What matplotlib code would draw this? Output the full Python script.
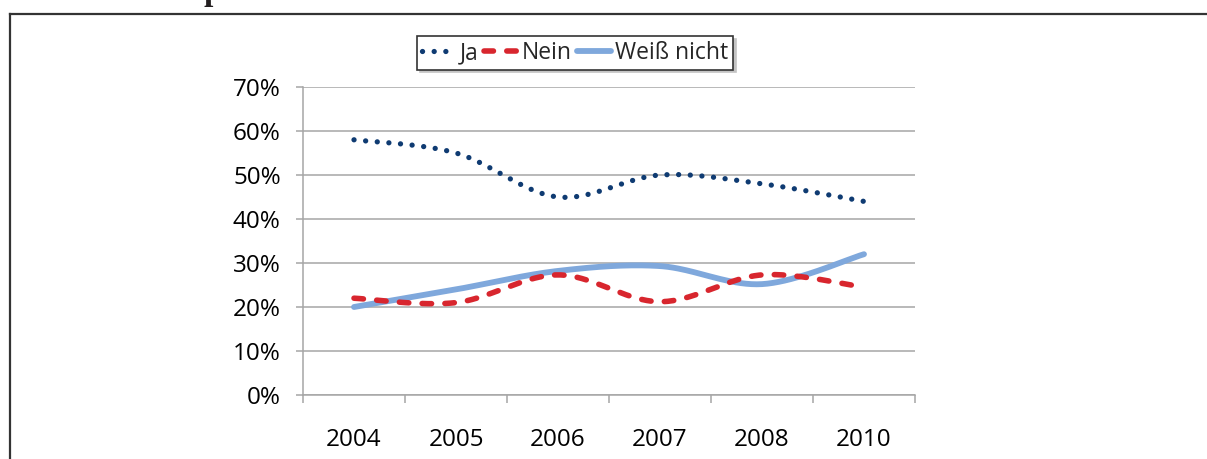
"""Umfrage 2004-2010: Ja / Nein / Weiß nicht, geglättete Linien im Excel-Stil."""

import matplotlib
matplotlib.use('Agg')
import matplotlib.pyplot as plt
import numpy as np
from matplotlib.lines import Line2D
from matplotlib.ticker import FixedLocator, PercentFormatter

plt.rcParams.update({'font.family': ['Open Sans', 'DejaVu Sans'], 'font.size': 17.5, 'text.color': '#262626'})

years = ['2004', '2005', '2006', '2007', '2008', '2010']
ja = [58, 55, 45, 50, 48, 44]
nein = [22, 21, 27.3, 21.2, 27.3, 24.5]
weiss_nicht = [20, 24, 28.2, 29.3, 25.2, 32]

colors = {'ja': '#0f3b72', 'nein': '#d8262e', 'weiss': '#7fa8dc'}
grid_color = '#a6a6a6'
ja_style = dict(color=colors['ja'], lw=3.8, linestyle=(0, (0.01, 2.2)), dash_capstyle='round')
nein_style = dict(color=colors['nein'], lw=4.0, linestyle=(0, (1.7, 2.4)), dash_capstyle='round')
weiss_style = dict(color=colors['weiss'], lw=4.2, solid_capstyle='round')


def smooth(xs, ys, n=40):
    # Bezier-Glättung wie Excel (Catmull-Rom, Endpunkte doppelt)
    p = np.column_stack([xs, ys]).astype(float)
    p = np.vstack([p[:1], p, p[-1:]])
    out = []
    for i in range(1, len(p) - 2):
        p0, p1, p2, p3 = p[i - 1], p[i], p[i + 1], p[i + 2]
        c1 = p1 + (p2 - p0) / 6
        c2 = p2 - (p3 - p1) / 6
        t = np.linspace(0, 1, n)[:, None]
        seg = (1 - t) ** 3 * p1 + 3 * (1 - t) ** 2 * t * c1 + 3 * (1 - t) * t ** 2 * c2 + t ** 3 * p2
        out.append(seg if i == 1 else seg[1:])
    out = np.vstack(out)
    return out[:, 0], out[:, 1]


W, H = 1207, 459
fig = plt.figure(figsize=(W / 100, H / 100), dpi=100)
ax = fig.add_axes([303 / W, 1 - 395 / H, 612 / W, 308 / H])

x = np.arange(len(years))
xs, ys = smooth(x, np.array(ja) / 100)
ax.plot(xs, ys, label='Ja', zorder=3, **ja_style)
xs, ys = smooth(x, np.array(nein) / 100)
ax.plot(xs, ys, label='Nein', zorder=3, **nein_style)
xs, ys = smooth(x, np.array(weiss_nicht) / 100)
ax.plot(xs, ys, label='Weiß nicht', zorder=2, **weiss_style)

ax.set_xlim(-0.5, len(years) - 0.5)
ax.set_ylim(0, 0.7)
ax.set_yticks(np.arange(0, 0.71, 0.1))
ax.yaxis.set_major_formatter(PercentFormatter(1.0, decimals=0))
ax.yaxis.grid(True, color=grid_color, lw=1.1)
ax.set_axisbelow(True)

ax.set_xticks(x)
ax.set_xticklabels(years)
ax.xaxis.set_minor_locator(FixedLocator(np.arange(-0.5, len(years), 1.0)))
ax.tick_params(axis='x', which='major', length=0, pad=24)
ax.tick_params(axis='x', which='minor', length=6, color=grid_color, width=1.1)
ax.tick_params(axis='y', length=5, color=grid_color, width=1.1, pad=11)

for side in ['top', 'right']:
    ax.spines[side].set_visible(False)
for side in ['left', 'bottom']:
    ax.spines[side].set_color(grid_color)
    ax.spines[side].set_linewidth(1.1)

handles = [Line2D([0], [0], **ja_style), Line2D([0], [0], **nein_style), Line2D([0], [0], **weiss_style)]
leg = fig.legend(handles, ['Ja', 'Nein', 'Weiß nicht'], loc='center', bbox_to_anchor=(575 / W, 1 - 53 / H),
                 ncol=3, frameon=True, fancybox=False, shadow={'color': '#c4c4c4', 'alpha': 1},
                 edgecolor='#333333', handlelength=1.45, handletextpad=0.2, columnspacing=0.25,
                 borderpad=0.2, borderaxespad=0, fontsize=16.5)
leg.get_frame().set_linewidth(1.2)

# Rahmen der Abbildung (links und oben sichtbar)
fig.add_artist(Line2D([10 / W, 10 / W], [0, 1 - 14 / H], color='#333333', lw=1.6))
fig.add_artist(Line2D([10 / W, 1], [1 - 14 / H, 1 - 14 / H], color='#333333', lw=1.6))

# abgeschnittene Überschrift oberhalb
fig.text(203 / W, 1.0, 'p', fontsize=24, fontweight='bold', family='Liberation Serif', va='baseline', color='#231f20')

fig.savefig('out.png', dpi=100)
